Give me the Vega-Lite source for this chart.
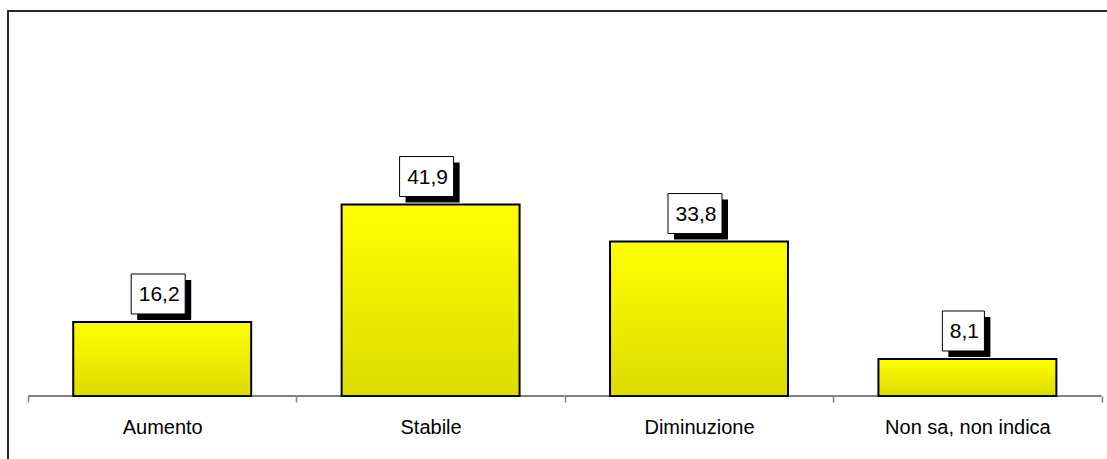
{
  "$schema": "https://vega.github.io/schema/vega-lite/v6.json",
  "autosize": {"type": "none"},
  "padding": {"left": 8, "top": 11, "right": -20, "bottom": -30},
  "width": 1119,
  "height": 478,
  "background": "white",
  "config": {
    "view": {"stroke": "#2a2a2a", "strokeWidth": 2},
    "locale": {"number": {"decimal": ",", "thousands": ".", "grouping": [3], "currency": ["", " €"]}}
  },
  "data": {
    "values": [
      {"cat": "Aumento", "value": 16.2},
      {"cat": "Stabile", "value": 41.9},
      {"cat": "Diminuzione", "value": 33.8},
      {"cat": "Non sa, non indica", "value": 8.1}
    ]
  },
  "encoding": {
    "x": {
      "field": "cat",
      "type": "nominal",
      "sort": null,
      "scale": {"type": "band", "paddingInner": 0, "paddingOuter": 0.08457, "align": 0.4405},
      "axis": {
        "title": null,
        "orient": "bottom",
        "offset": -93,
        "domain": false,
        "tickBand": "extent",
        "tickColor": "#808080",
        "tickSize": 6,
        "tickWidth": 1.5,
        "labelAngle": 0,
        "labelFont": "Liberation Sans",
        "labelFontSize": 20,
        "labelColor": "#000000",
        "labelPadding": 15
      }
    }
  },
  "layer": [
    {
      "mark": {"type": "bar", "width": {"band": 1}, "fill": null, "stroke": "#808080", "strokeWidth": 2},
      "encoding": {
        "y": {"datum": 0, "type": "quantitative", "scale": {"domain": [-20.35, 84.25], "nice": false, "zero": false}, "axis": null},
        "y2": {"datum": 0}
      }
    },
    {
      "mark": {
        "type": "bar",
        "width": {"band": 0.663},
        "stroke": "#000000",
        "strokeWidth": 2,
        "color": {
          "gradient": "linear",
          "x1": 0, "y1": 0, "x2": 0, "y2": 1,
          "stops": [
            {"offset": 0, "color": "#ffff00"},
            {"offset": 1, "color": "#dcdc00"}
          ]
        }
      },
      "encoding": {
        "y": {"field": "value", "type": "quantitative", "scale": {"domain": [-20.35, 84.25], "nice": false, "zero": false}, "axis": null},
        "y2": {"datum": 0}
      }
    },
    {
      "mark": {"type": "point", "filled": true, "fill": "#000000", "stroke": null, "opacity": 1, "size": 3025, "xOffset": 2, "yOffset": -22},
      "encoding": {
        "y": {"field": "value", "type": "quantitative", "scale": {"domain": [-20.35, 84.25], "nice": false, "zero": false}, "axis": null},
        "shape": {
          "field": "cat",
          "type": "nominal",
          "scale": {
            "domain": ["Aumento", "Stabile", "Diminuzione", "Non sa, non indica"],
            "range": [
              "M-0.982,-0.727L0.982,-0.727L0.982,0.727L-0.982,0.727Z",
              "M-0.982,-0.727L0.982,-0.727L0.982,0.727L-0.982,0.727Z",
              "M-0.982,-0.727L0.982,-0.727L0.982,0.727L-0.982,0.727Z",
              "M-0.764,-0.727L0.764,-0.727L0.764,0.727L-0.764,0.727Z"
            ]
          },
          "legend": null
        }
      }
    },
    {
      "mark": {"type": "point", "filled": true, "fill": "#ffffff", "stroke": "#000000", "strokeWidth": 1, "opacity": 1, "size": 3025, "xOffset": -4, "yOffset": -28},
      "encoding": {
        "y": {"field": "value", "type": "quantitative", "scale": {"domain": [-20.35, 84.25], "nice": false, "zero": false}, "axis": null},
        "shape": {
          "field": "cat",
          "type": "nominal",
          "scale": {
            "domain": ["Aumento", "Stabile", "Diminuzione", "Non sa, non indica"],
            "range": [
              "M-0.982,-0.727L0.982,-0.727L0.982,0.727L-0.982,0.727Z",
              "M-0.982,-0.727L0.982,-0.727L0.982,0.727L-0.982,0.727Z",
              "M-0.982,-0.727L0.982,-0.727L0.982,0.727L-0.982,0.727Z",
              "M-0.764,-0.727L0.764,-0.727L0.764,0.727L-0.764,0.727Z"
            ]
          },
          "legend": null
        }
      }
    },
    {
      "mark": {"type": "text", "font": "Liberation Sans", "fontSize": 21, "color": "#000000", "align": "center", "baseline": "middle", "xOffset": -3, "yOffset": -27},
      "encoding": {
        "y": {"field": "value", "type": "quantitative", "scale": {"domain": [-20.35, 84.25], "nice": false, "zero": false}, "axis": null},
        "text": {"field": "value", "type": "quantitative", "format": ".1f"}
      }
    }
  ]
}
